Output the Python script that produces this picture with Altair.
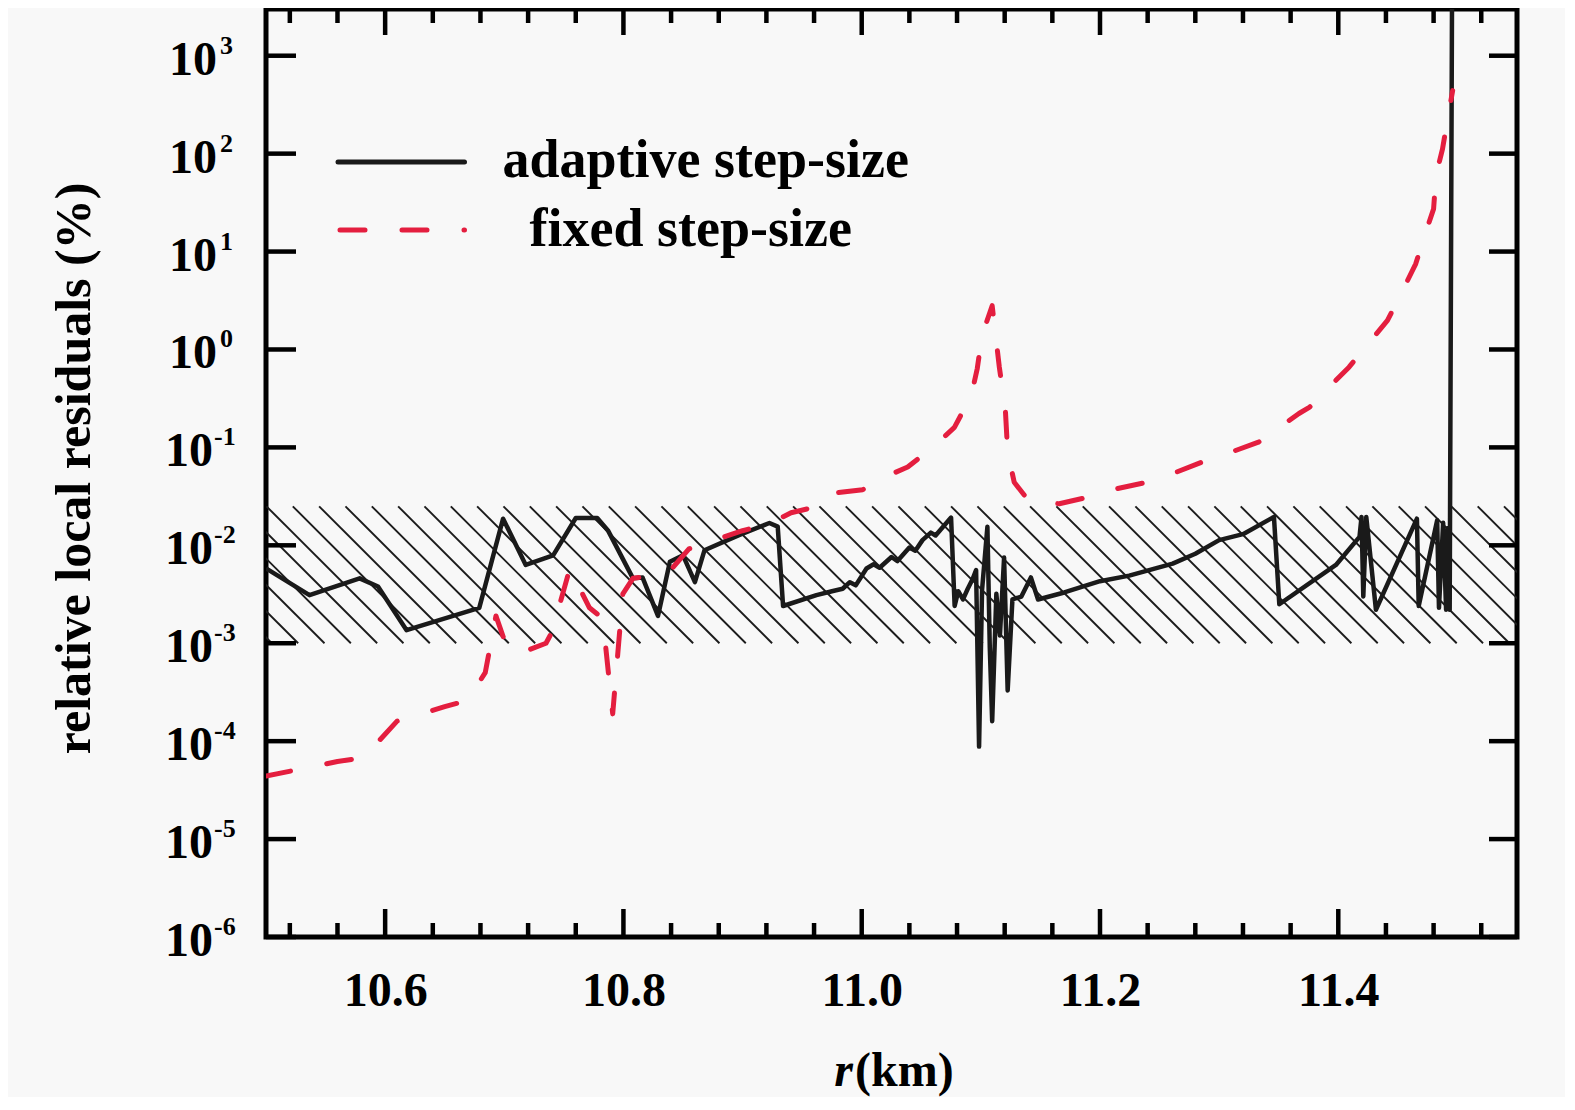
import altair as alt
import pandas as pd

# ---------------- data ----------------
adaptive_r = [10.500, 10.5365, 10.5786, 10.594, 10.618, 10.679, 10.699, 10.718, 10.741,
              10.760, 10.778, 10.787, 10.808, 10.816, 10.829, 10.839, 10.850, 10.860,
              10.868, 10.897, 10.9225, 10.9295, 10.934, 10.962, 10.975, 10.984, 10.990,
              10.995, 11.004, 11.010, 11.015, 11.025, 11.030, 11.040, 11.045, 11.051,
              11.058, 11.062, 11.075, 11.078, 11.081, 11.085, 11.089, 11.093, 11.096,
              11.0985, 11.101, 11.1055, 11.1075, 11.1095, 11.113, 11.116, 11.1195,
              11.1225, 11.1265, 11.134, 11.142, 11.148, 11.170, 11.200, 11.2245, 11.261,
              11.280, 11.300, 11.320, 11.346, 11.3505, 11.398, 11.4178, 11.4195, 11.421,
              11.4235, 11.4316, 11.466, 11.4675, 11.483, 11.4845, 11.488, 11.4905,
              11.492, 11.4935, 11.4955]
adaptive_res = [0.0058, 0.0031, 0.0046, 0.0038, 0.00136, 0.0023, 0.0187, 0.0063, 0.0079,
                0.019, 0.019, 0.0142, 0.0046, 0.0047, 0.0019, 0.0068, 0.0079, 0.0042,
                0.0089, 0.0127, 0.0169, 0.0155, 0.0024, 0.0031, 0.0034, 0.0036, 0.0042,
                0.0039, 0.0058, 0.0064, 0.0059, 0.0076, 0.0069, 0.0095, 0.0088, 0.0113,
                0.0135, 0.0126, 0.0192, 0.0024, 0.0034, 0.0028, 0.0036, 0.0045, 0.0056,
                0.000088, 0.0035, 0.0155, 0.0009, 0.00016, 0.0032, 0.0012, 0.0075,
                0.00033, 0.0028, 0.0030, 0.0047, 0.0028, 0.0033, 0.0043, 0.0049, 0.0065,
                0.0082, 0.0113, 0.0130, 0.0195, 0.0025, 0.0063, 0.0122, 0.0195, 0.0030,
                0.0195, 0.0022, 0.0187, 0.0024, 0.0180, 0.0023, 0.0170, 0.0022,
                0.0150, 0.0022, 5000.0]

fixed_r = [10.500, 10.560, 10.582, 10.610, 10.650, 10.669, 10.684, 10.693, 10.7016,
           10.712, 10.735, 10.740, 10.755, 10.7715, 10.7826, 10.791, 10.7995, 10.808,
           10.820, 10.8386, 10.855, 10.880, 10.900, 10.9225, 10.9407, 10.963, 10.9756,
           11.0008, 11.0162, 11.0386, 11.0595, 11.0778, 11.092, 11.097, 11.101, 11.1095,
           11.1155, 11.1205, 11.1225, 11.128, 11.141, 11.1658, 11.1896, 11.2145, 11.239,
           11.261, 11.286, 11.310, 11.333, 11.367, 11.376, 11.392, 11.409, 11.4274,
           11.4413, 11.454, 11.465, 11.472, 11.480, 11.482, 11.4875, 11.492, 11.496]
fixed_res = [4.4e-5, 6.2e-5, 6.8e-5, 1.6e-4, 2.25e-4, 2.6e-4, 5.0e-4, 1.9e-3, 9.5e-4,
             7.8e-4, 1.0e-3, 1.3e-3, 5.8e-3, 2.3e-3, 1.8e-3, 1.9e-4, 3.2e-3, 4.6e-3,
             4.8e-3, 5.4e-3, 9.2e-3, 0.0117, 0.0141, 0.0166, 0.0215, 0.025, 0.034,
             0.037, 0.048, 0.063, 0.10, 0.16, 0.34, 0.64, 1.4, 2.8,
             0.66, 0.25, 0.09, 0.044, 0.0277, 0.0266, 0.031, 0.038, 0.044,
             0.054, 0.071, 0.0895, 0.113, 0.222, 0.258, 0.41, 0.66, 1.24,
             1.98, 4.0, 7.5, 14.0, 27.3, 60.0, 112.0, 235.0, 440.0]

x_major = [10.6, 10.8, 11.0, 11.2, 11.4]
x_minor = [10.52, 10.56, 10.64, 10.68, 10.72, 10.76, 10.84, 10.88, 10.92, 10.96,
           11.04, 11.08, 11.12, 11.16, 11.24, 11.28, 11.32, 11.36, 11.44, 11.48, 11.52]
y_exponents = [-6, -5, -4, -3, -2, -1, 0, 1, 2, 3]

band_low = 0.001
band_high = 0.025

legend_labels = ["adaptive step-size", "fixed step-size"]
y_title = "relative local residuals (%)"

# ---------------- styling / layout ----------------
X_DOMAIN = [10.5, 11.55]
Y_DOMAIN = [1e-6, 3000]
W, H = 1251, 928
FONT = "Liberation Serif"
BLACK = "#1a1a1a"
RED = "#e41e3f"

HATCH_STEP = 0.0221
HATCH_X0 = 10.3678
HATCH_DX = 0.115
HATCH_COUNT = 56

xs = alt.Scale(domain=X_DOMAIN, nice=False, zero=False)
ys = alt.Scale(type="log", domain=Y_DOMAIN, nice=False)
x_axis = alt.Axis(values=x_major, format=".1f", ticks=False, domain=False, grid=False,
                  labelFont=FONT, labelFontWeight="bold", labelFontSize=48,
                  labelColor="black", labelPadding=30, labelFlush=False, title=None)

one = pd.DataFrame({"k": [0]})

# hatched tolerance band
hatch = alt.Chart(alt.sequence(0, HATCH_COUNT, as_="i")).transform_calculate(
    x0=f"{HATCH_X0} + datum.i * {HATCH_STEP}",
    x1=f"{HATCH_X0} + datum.i * {HATCH_STEP} + {HATCH_DX}",
    yt=f"{band_high}",
    yb=f"{band_low}",
).mark_rule(clip=True, strokeWidth=1.9, color="#1c1c1c").encode(
    x=alt.X("x0:Q", scale=xs, axis=x_axis),
    x2="x1:Q",
    y=alt.Y("yt:Q", scale=ys, axis=None),
    y2="yb:Q",
)

adaptive_df = pd.DataFrame({"r": adaptive_r, "res": adaptive_res,
                            "o": list(range(len(adaptive_r)))})
fixed_df = pd.DataFrame({"r": fixed_r, "res": fixed_res,
                         "o": list(range(len(fixed_r)))})

black = alt.Chart(adaptive_df).mark_line(
    clip=True, color=BLACK, strokeWidth=4.5, strokeJoin="round"
).encode(
    x=alt.X("r:Q", scale=xs, axis=x_axis),
    y=alt.Y("res:Q", scale=ys, axis=None),
    order="o:Q",
)

red = alt.Chart(fixed_df).mark_line(
    clip=True, color=RED, strokeWidth=5, strokeDash=[25, 37], strokeCap="round",
    strokeJoin="round"
).encode(
    x=alt.X("r:Q", scale=xs, axis=x_axis),
    y=alt.Y("res:Q", scale=ys, axis=None),
    order="o:Q",
)


def xticks(vals, y0, y1):
    return alt.Chart(pd.DataFrame({"v": vals})).mark_rule(
        color="black", strokeWidth=4.5
    ).encode(
        x=alt.X("v:Q", scale=xs, axis=x_axis),
        y=alt.value(y0), y2=alt.value(y1),
    )


ydf = pd.DataFrame({"e": y_exponents})


def yticks(x0, x1):
    return alt.Chart(ydf).transform_calculate(val="pow(10, datum.e)").mark_rule(
        color="black", strokeWidth=4.5
    ).encode(
        y=alt.Y("val:Q", scale=ys, axis=None),
        x=alt.value(x0), x2=alt.value(x1),
    )


ticks = [
    xticks(x_major, H, H - 28), xticks(x_minor, H, H - 14),
    xticks(x_major, 0, 26), xticks(x_minor, 0, 14),
    yticks(0, 30), yticks(W, W - 28),
]


def ylabels(cond, x10, xexp):
    base = alt.Chart(ydf).transform_filter(cond).transform_calculate(
        val="pow(10, datum.e)", et="'' + datum.e"
    )
    ten = base.mark_text(font=FONT, fontWeight="bold", fontSize=48, align="right",
                         baseline="middle", dy=5, color="black").encode(
        y=alt.Y("val:Q", scale=ys, axis=None), x=alt.value(x10), text=alt.value("10"))
    ex = base.mark_text(font=FONT, fontWeight="bold", fontSize=26, align="left",
                        baseline="middle", dy=-10, color="black").encode(
        y=alt.Y("val:Q", scale=ys, axis=None), x=alt.value(xexp), text="et:N")
    return [ten, ex]


labels = ylabels("datum.e < 0", -53, -52) + ylabels("datum.e >= 0", -49, -46)

# legend
leg_black = alt.Chart(one).mark_rule(color=BLACK, strokeWidth=5, strokeCap="round").encode(
    x=alt.value(72), x2=alt.value(198.5), y=alt.value(153))
leg_red = alt.Chart(one).mark_rule(color=RED, strokeWidth=5, strokeDash=[25, 37],
                                   strokeCap="round").encode(
    x=alt.value(74), x2=alt.value(198.5), y=alt.value(221))
leg_t1 = alt.Chart(one).mark_text(font=FONT, fontWeight="bold", fontSize=54, align="left",
                                  baseline="alphabetic", color="black").encode(
    x=alt.value(236.5), y=alt.value(168), text=alt.value(legend_labels[0]))
leg_t2 = alt.Chart(one).mark_text(font=FONT, fontWeight="bold", fontSize=54, align="left",
                                  baseline="alphabetic", color="black").encode(
    x=alt.value(263.5), y=alt.value(237), text=alt.value(legend_labels[1]))

# axis titles
ytitle = alt.Chart(one).mark_text(font=FONT, fontWeight="bold", fontSize=50, angle=270,
                                  align="center", baseline="middle", color="black").encode(
    x=alt.value(-191.5), y=alt.value(459.5), text=alt.value(y_title))
xt_r = alt.Chart(one).mark_text(font=FONT, fontWeight="bold", fontStyle="italic",
                                fontSize=48, align="right", baseline="alphabetic",
                                color="black").encode(
    x=alt.value(587), y=alt.value(1077), text=alt.value("r"))
xt_km = alt.Chart(one).mark_text(font=FONT, fontWeight="bold", fontSize=48, align="left",
                                 baseline="alphabetic", color="black").encode(
    x=alt.value(589), y=alt.value(1077), text=alt.value("(km)"))

chart = alt.layer(
    hatch, black, red, *ticks, *labels, leg_black, leg_red, leg_t1, leg_t2,
    ytitle, xt_r, xt_km
).properties(
    width=W, height=H,
    padding={"left": 258, "top": 1, "right": 48, "bottom": 160},
    autosize=alt.AutoSizeParams(type="none"),
    background="#f8f8f8",
).configure_view(stroke="black", strokeWidth=5)

chart.save("out.html", embed_options={"renderer": "svg", "actions": False})
